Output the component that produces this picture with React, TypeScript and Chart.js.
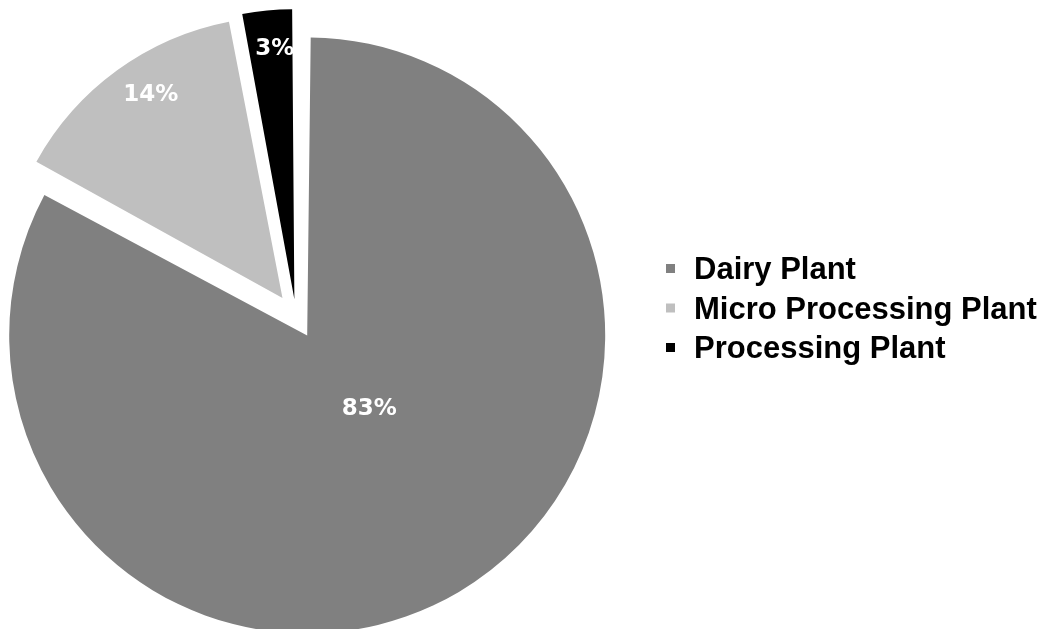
import React, { useEffect, useRef } from "react";
import { Chart, registerables } from "chart.js";

Chart.register(...registerables);

// ---- data ----
const categories = ["Dairy Plant", "Micro Processing Plant", "Processing Plant"];
const shares = [83, 14, 3];
const percentLabels = ["83%", "14%", "3%"];
const sliceColors = ["#808080", "#bfbfbf", "#000000"];

// ---- styling / placement constants ----
const SLICE_OFFSETS = [88, 92, 69];
const LABEL_RADIAL = [0.324, 0.86, 0.866];
const LABEL_ANGLE_SHIFT_DEG = [-9.4, 3, 0.9];
const LEGEND_X = 666;
const LEGEND_TOP_BASELINE = 279;
const LEGEND_STEP = 39.5;

const pctLabels = {
  id: "pctLabels",
  afterDatasetsDraw(chart: any) {
    const ctx = chart.ctx;
    const meta = chart.getDatasetMeta(0);
    ctx.save();
    ctx.fillStyle = "#ffffff";
    ctx.font = "bold 23px 'DejaVu Sans', sans-serif";
    ctx.textAlign = "center";
    ctx.textBaseline = "middle";
    meta.data.forEach((arc: any, i: number) => {
      const p = arc.getProps(["x", "y", "startAngle", "endAngle", "outerRadius", "circumference"]);
      const off = (arc.options.offset || 0) / 4;
      const mid = (p.startAngle + p.endAngle) / 2;
      const fix = 1 - Math.sin(Math.min(Math.PI, p.circumference || 0));
      const R = p.outerRadius + off * fix;
      const tx = p.x + Math.cos(mid) * off;
      const ty = p.y + Math.sin(mid) * off;
      const a = mid + (LABEL_ANGLE_SHIFT_DEG[i] * Math.PI) / 180;
      const r = LABEL_RADIAL[i] * R;
      ctx.fillText(percentLabels[i], tx + Math.cos(a) * r, ty + Math.sin(a) * r);
    });
    ctx.restore();
  },
};

const sideLegend = {
  id: "sideLegend",
  afterDraw(chart: any) {
    const ctx = chart.ctx;
    ctx.save();
    ctx.font = "bold 31px 'Liberation Sans', Arial, sans-serif";
    ctx.textAlign = "left";
    ctx.textBaseline = "alphabetic";
    categories.forEach((c, i) => {
      const base = LEGEND_TOP_BASELINE + i * LEGEND_STEP;
      ctx.fillStyle = sliceColors[i];
      ctx.fillRect(LEGEND_X, base - 15, 9, 9);
      ctx.fillStyle = "#000000";
      ctx.fillText(c, LEGEND_X + 28, base);
    });
    ctx.restore();
  },
};

export default function App() {
  const ref = useRef<HTMLCanvasElement | null>(null);

  useEffect(() => {
    if (!ref.current) return;
    const chart = new Chart(ref.current, {
      type: "pie",
      data: {
        labels: categories,
        datasets: [
          {
            data: shares,
            backgroundColor: sliceColors,
            borderWidth: 0,
            offset: SLICE_OFFSETS,
          },
        ],
      },
      options: {
        responsive: false,
        animation: false,
        radius: 276,
        layout: { padding: { left: 0, right: 460, top: 4, bottom: 0 } },
        plugins: {
          legend: { display: false },
          tooltip: { enabled: false },
        },
      } as any,
      plugins: [pctLabels, sideLegend],
    });
    return () => chart.destroy();
  }, []);

  return (
    <div style={{ position: "absolute", left: 0, top: 0, width: 1052, height: 629, background: "#ffffff" }}>
      <canvas ref={ref} width={1052} height={629} style={{ display: "block" }} />
    </div>
  );
}
